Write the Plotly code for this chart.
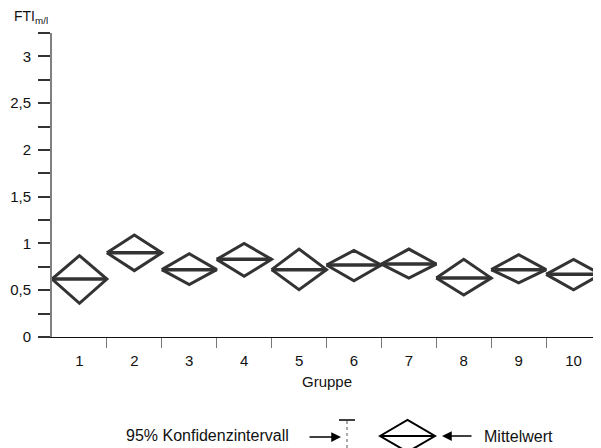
import plotly.graph_objects as go

groups = [1, 2, 3, 4, 5, 6, 7, 8, 9, 10]
group_labels = ["1", "2", "3", "4", "5", "6", "7", "8", "9", "10"]
means = [0.62, 0.90, 0.72, 0.83, 0.72, 0.77, 0.78, 0.63, 0.72, 0.67]
upper = [0.87, 1.09, 0.89, 1.00, 0.94, 0.925, 0.94, 0.83, 0.88, 0.83]
lower = [0.36, 0.71, 0.56, 0.65, 0.505, 0.60, 0.63, 0.45, 0.58, 0.505]

y_tickvals = [0, 0.25, 0.5, 0.75, 1, 1.25, 1.5, 1.75, 2, 2.25, 2.5, 2.75, 3, 3.25]
y_ticktext = ["0", "", "0,5", "", "1", "", "1,5", "", "2", "", "2,5", "", "3", ""]
boundaries = [1.5, 2.5, 3.5, 4.5, 5.5, 6.5, 7.5, 8.5, 9.5]

FONT = "Liberation Sans, Arial, sans-serif"
DARK = "#333333"

# the page body has an 8px margin: figure is offset by 8px in the window
OFF = 8
WIN_W, WIN_H = 601, 448
W, H = WIN_W - OFF, WIN_H - OFF
# plot area in window pixels: x 52..601, y 33..337
ML = 52 - OFF
MT = 33 - OFF
MR = 0
MB = WIN_H - 337
PW, PH = W - ML - MR, H - MT - MB

def px(x):
    # window pixel x -> paper
    return (x - OFF - ML) / PW

def py(y):
    # window pixel y -> paper
    return (H - MB - (y - OFF)) / PH

# diamonds
dx, dy = [], []
mx, my = [], []
for g, m, u, l in zip(groups, means, upper, lower):
    dx += [g - 0.5, g, g + 0.5, g, g - 0.5, None]
    dy += [m, u, m, l, m, None]
    mx += [g - 0.5, g + 0.5, None]
    my += [m, m, None]

fig = go.Figure()
fig.add_trace(go.Scatter(x=dx, y=dy, mode="lines",
                         line=dict(color=DARK, width=3), hoverinfo="skip",
                         showlegend=False))
fig.add_trace(go.Scatter(x=mx, y=my, mode="lines",
                         line=dict(color=DARK, width=3.5), hoverinfo="skip",
                         showlegend=False))
# invisible trace on secondary x axis to carry boundary ticks
fig.add_trace(go.Scatter(x=[0.5, 10.5], y=[None, None], xaxis="x2",
                         mode="lines", showlegend=False, hoverinfo="skip"))

fig.update_layout(
    width=W, height=H,
    margin=dict(l=ML, r=MR, t=MT, b=MB, autoexpand=False),
    paper_bgcolor="white", plot_bgcolor="white",
    font=dict(family=FONT, size=15, color="#111111"),
    showlegend=False,
    hovermode=False,
    xaxis=dict(range=[0.5, 10.5], tickvals=groups, ticktext=group_labels,
               ticks="outside", ticklen=10, tickcolor="rgba(0,0,0,0)",
               ticklabelstandoff=0, automargin=False,
               showline=True, linecolor="#111111", linewidth=1.2,
               showgrid=False, zeroline=False),
    xaxis2=dict(range=[0.5, 10.5], overlaying="x", anchor="y", side="bottom",
                tickvals=boundaries, showticklabels=False,
                ticks="outside", ticklen=10, tickcolor="#777777", tickwidth=1,
                showline=False, showgrid=False, zeroline=False),
    yaxis=dict(range=[0, 3.25], tickvals=y_tickvals, ticktext=y_ticktext,
               ticks="outside", ticklen=12, tickwidth=1.5, tickcolor=DARK,
               ticklabelstandoff=4, automargin=False,
               showline=True, linecolor="#808080", linewidth=2,
               showgrid=False, zeroline=False),
)

ann = []
ann.append(dict(x=px(12), y=py(17), xref="paper", yref="paper",
                text="FTI<sub>m/l</sub>", showarrow=False,
                xanchor="left", yanchor="middle", font=dict(size=14)))
ann.append(dict(x=px(326.5), y=py(381), xref="paper", yref="paper",
                text="Gruppe", showarrow=False, xanchor="center",
                yanchor="middle", font=dict(size=15)))
ann.append(dict(x=px(291), y=py(435), xref="paper", yref="paper",
                text="95% Konfidenzintervall", showarrow=False,
                xanchor="right", yanchor="middle", font=dict(size=16)))
ann.append(dict(x=px(482), y=py(436), xref="paper", yref="paper",
                text="Mittelwert", showarrow=False,
                xanchor="left", yanchor="middle", font=dict(size=16)))
# arrows
ann.append(dict(x=px(341), y=py(437), xref="paper", yref="paper", text="",
                showarrow=True, ax=-33, ay=0, arrowhead=2, arrowsize=1.3,
                arrowwidth=1.5, arrowcolor="black"))
ann.append(dict(x=px(442), y=py(436), xref="paper", yref="paper", text="",
                showarrow=True, ax=31, ay=0, arrowhead=2, arrowsize=1.3,
                arrowwidth=1.5, arrowcolor="black"))
fig.update_layout(annotations=ann)

shapes = []
# error-bar glyph
shapes.append(dict(type="line", xref="paper", yref="paper",
                   x0=px(339), x1=px(355), y0=py(420), y1=py(420),
                   line=dict(color="black", width=1.5)))
shapes.append(dict(type="line", xref="paper", yref="paper",
                   x0=px(347), x1=px(347), y0=py(421), y1=py(452),
                   line=dict(color="#555555", width=1, dash="dot")))
# legend diamond
path = "M {a},{b} L {c},{d} L {e},{b} L {c},{f} Z".format(
    a=px(380), b=py(436), c=px(407.5), d=py(420), e=px(435), f=py(452))
shapes.append(dict(type="path", xref="paper", yref="paper", path=path,
                   line=dict(color="black", width=2)))
shapes.append(dict(type="line", xref="paper", yref="paper",
                   x0=px(380), x1=px(435), y0=py(436), y1=py(436),
                   line=dict(color="black", width=2)))
fig.update_layout(shapes=shapes)

fig.write_html("out.html")
